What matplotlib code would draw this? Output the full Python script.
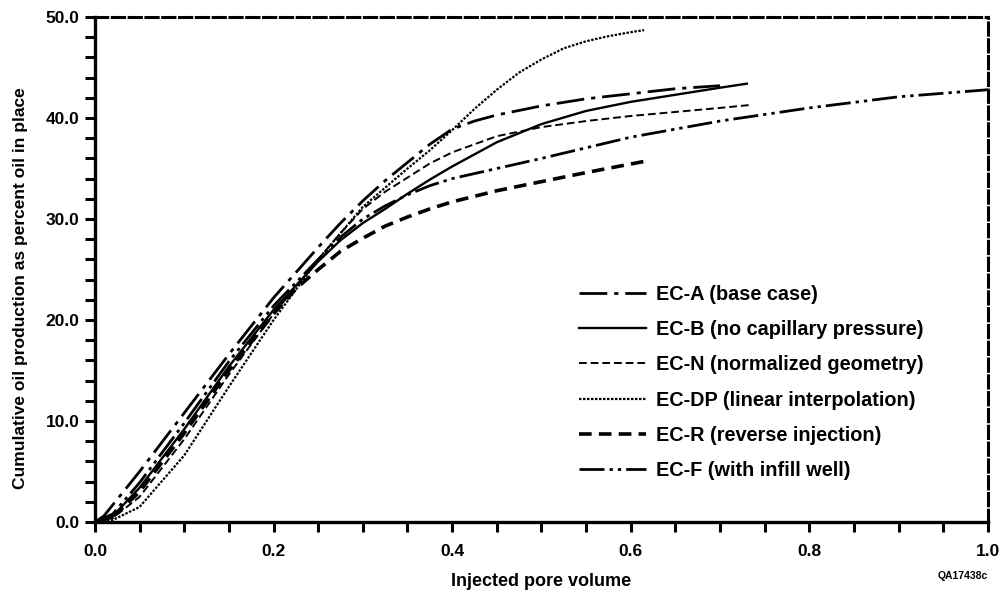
import matplotlib
matplotlib.use('Agg')
import matplotlib.pyplot as plt
from matplotlib.ticker import MultipleLocator, FormatStrFormatter

plt.rcParams['font.family'] = ['Liberation Sans', 'DejaVu Sans']
plt.rcParams['font.weight'] = 'bold'

# curve data
x_a = [0, 0.01, 0.05, 0.10, 0.15, 0.20, 0.25, 0.275, 0.30, 0.325, 0.35, 0.375, 0.40, 0.425,
       0.45, 0.50, 0.55, 0.60, 0.65, 0.70]
y_a = [0, 0.6, 5.0, 10.8, 16.6, 22.2, 27.2, 29.6, 31.8, 33.8, 35.6, 37.4, 38.9, 39.7,
       40.3, 41.2, 41.9, 42.4, 42.9, 43.2]

x_b = [0, 0.02, 0.05, 0.10, 0.15, 0.20, 0.25, 0.275, 0.30, 0.325, 0.35, 0.375, 0.40, 0.45,
       0.50, 0.55, 0.60, 0.65, 0.70, 0.73]
y_b = [0, 0.6, 3.4, 9.2, 15.4, 21.0, 25.8, 27.9, 29.6, 31.0, 32.5, 33.9, 35.2, 37.6,
       39.4, 40.7, 41.6, 42.3, 43.0, 43.4]

x_n = [0, 0.02, 0.05, 0.10, 0.15, 0.20, 0.25, 0.275, 0.30, 0.325, 0.35, 0.375, 0.40, 0.45,
       0.50, 0.55, 0.60, 0.65, 0.70, 0.735]
y_n = [0, 0.4, 2.5, 8.2, 14.6, 20.6, 26.0, 28.6, 31.0, 32.7, 34.1, 35.5, 36.6, 38.2,
       39.1, 39.7, 40.2, 40.6, 41.0, 41.3]

x_dp = [0, 0.02, 0.05, 0.10, 0.15, 0.20, 0.25, 0.30, 0.35, 0.375, 0.40, 0.425, 0.45, 0.475,
        0.50, 0.525, 0.55, 0.575, 0.60, 0.615]
y_dp = [0, 0.2, 1.5, 6.6, 13.4, 20.0, 26.0, 31.2, 35.0, 36.8, 38.8, 40.9, 42.8, 44.5,
        45.8, 46.9, 47.6, 48.1, 48.5, 48.7]

x_r = [0, 0.02, 0.05, 0.10, 0.15, 0.20, 0.225, 0.25, 0.275, 0.30, 0.325, 0.35, 0.375, 0.40,
       0.45, 0.50, 0.55, 0.615]
y_r = [0, 0.5, 3.0, 8.8, 15.0, 20.6, 23.1, 25.0, 26.8, 28.1, 29.3, 30.2, 31.0, 31.7,
       32.8, 33.7, 34.6, 35.7]

x_f = [0, 0.02, 0.05, 0.10, 0.15, 0.20, 0.25, 0.275, 0.30, 0.325, 0.35, 0.375, 0.40, 0.45,
       0.50, 0.60, 0.70, 0.80, 0.90, 1.0]
y_f = [0, 0.8, 3.9, 9.8, 15.9, 21.4, 26.0, 28.2, 30.0, 31.3, 32.4, 33.3, 34.0, 35.0,
       36.0, 38.1, 39.7, 41.0, 42.1, 42.8]

labels = ['EC-A (base case)', 'EC-B (no capillary pressure)', 'EC-N (normalized geometry)',
          'EC-DP (linear interpolation)', 'EC-R (reverse injection)', 'EC-F (with infill well)']

fig = plt.figure(figsize=(10.06, 5.97), dpi=100)
ax = fig.add_axes([0.0944, 0.1256, 0.8876, 0.8459])

ax.plot(x_a, y_a, color='black', lw=2.0, dashes=(10, 2.5, 1.5, 2.5), label=labels[0])
ax.plot(x_b, y_b, color='black', lw=1.7, label=labels[1])
ax.plot(x_n, y_n, color='black', lw=1.4, dashes=(4, 2), label=labels[2])
ax.plot(x_dp, y_dp, color='black', lw=1.6, dashes=(1.1, 0.7), label=labels[3])
ax.plot(x_r, y_r, color='black', lw=2.6, dashes=(3.5, 2), label=labels[4])
ax.plot(x_f, y_f, color='black', lw=2.0, dashes=(9, 1.8, 1.2, 1.8, 1.2, 1.8), label=labels[5])

ax.set_xlim(0, 1.0)
ax.set_ylim(0, 50)

ax.xaxis.set_major_locator(MultipleLocator(0.2))
ax.xaxis.set_minor_locator(MultipleLocator(0.05))
ax.yaxis.set_major_locator(MultipleLocator(10))
ax.yaxis.set_minor_locator(MultipleLocator(2))
ax.xaxis.set_major_formatter(FormatStrFormatter('%.1f'))
ax.yaxis.set_major_formatter(FormatStrFormatter('%.1f'))
ax.tick_params(which='both', direction='out', length=7, width=2.2, labelsize=12.5)
ax.tick_params(axis='x', pad=9)
ax.tick_params(axis='y', pad=4)

for side in ('left', 'bottom'):
    ax.spines[side].set_linewidth(2.4)
for side in ('top', 'right'):
    ax.spines[side].set_linewidth(2.2)
    ax.spines[side].set_linestyle((0, (4, 1.5)))

ax.set_xlabel('Injected pore volume', fontsize=13, fontweight='bold', labelpad=10)
ax.set_ylabel('Cumulative oil production as percent oil in place', fontsize=12.5,
              fontweight='bold')
ax.yaxis.set_label_coords(-0.0745, 0.463)

ax.legend(loc='upper left', bbox_to_anchor=(0.558, 0.553), bbox_transform=fig.transFigure,
          frameon=False, fontsize=14.3, handlelength=3.35, handletextpad=0.5, labelspacing=0.82)

fig.text(0.982, 0.036, 'QA17438c', fontsize=7.5, fontweight='bold', ha='right', va='center')

plt.savefig('out.png', dpi=100)
